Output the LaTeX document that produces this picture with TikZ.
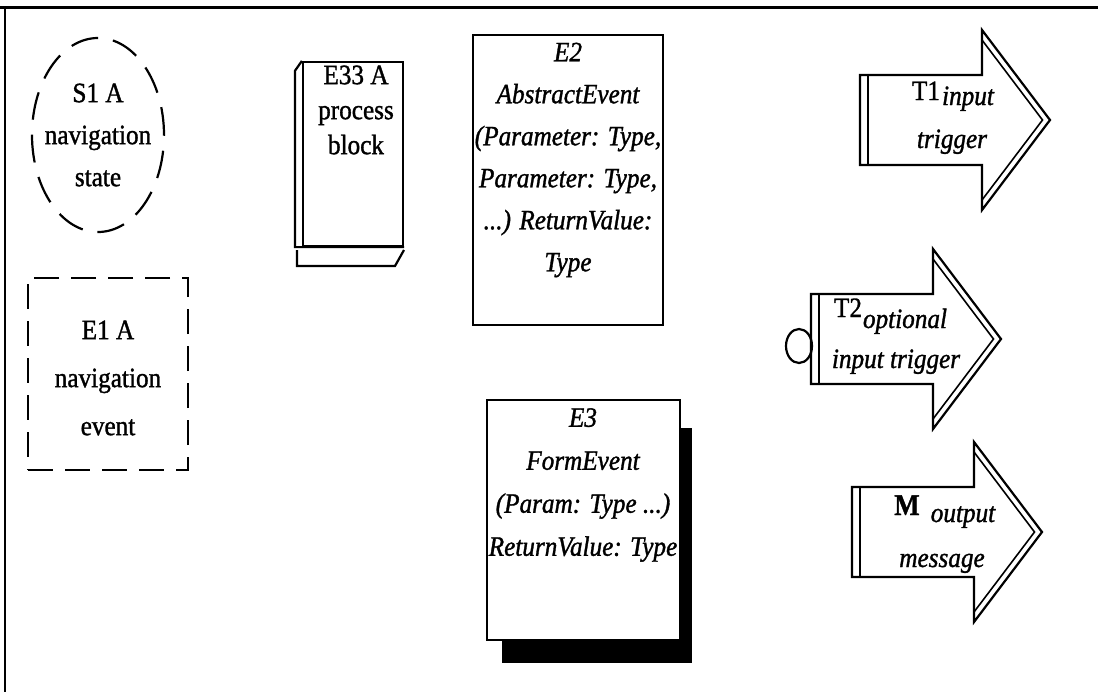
\documentclass[tikz,border=0pt]{standalone}
\usepackage{fontspec}
\setmainfont{Liberation Serif}[FakeStretch=0.9, FakeBold=1.2]
\usetikzlibrary{shapes.geometric}
\newcommand\lblsize[1]{\fontsize{28}{#1}\selectfont}
\tikzset{
  shape line/.style={draw=black, line width=2.2pt},
  txt/.style={align=center, inner sep=0pt},
  bigarrow/.pic={
    \draw[shape line, fill=white, line join=miter]
      (-122,-45) -- (0,-45) -- (0,-90) -- (68,0) -- (0,90) -- (0,45) -- (-122,45) -- cycle;
    \draw[shape line] (-114,-45) -- (-114,45);
    \draw[line width=1.6pt] (0,-80) -- (60.5,0) -- (0,80);
  }
}
\begin{document}
\begin{tikzpicture}[x=1pt,y=-1pt]
\useasboundingbox (0,0) rectangle (1098,694);
% frame
\draw[line width=3pt] (0,7) -- (1098,7);
\draw[line width=2.5pt] (5,7) -- (5,692);

% S1 navigation state
\node[ellipse, shape line, dash pattern=on 28pt off 15pt, minimum width=132pt, minimum height=194pt, inner sep=0pt] (s1) at (98,135) {};
\node[txt, font=\lblsize{42}] (s1t) at (s1.center) {S1 A\\navigation\\state};

% E1 navigation event
\node[shape line, dash pattern=on 25pt off 12pt, minimum width=160pt, minimum height=192pt, inner sep=0pt] (e1) at (108,374) {};
\node[txt, font=\lblsize{48}] (e1t) at (108,378) {E1 A\\navigation\\event};

% E33 process block
\node[shape line, minimum width=100pt, minimum height=184pt, inner sep=0pt] (e33) at (353,154) {};
\draw[shape line] (e33.north west) -- ++(-7,10) |- (e33.south east);
\draw[shape line] (297,250) -- (297,266) -- (395,266) -- (404,250);
\node[txt, font=\lblsize{35}] (e33t) at (356,110) {E33 A\\process\\block};

% E2 abstract event
\node[shape line, minimum width=190pt, minimum height=290pt, inner sep=0pt] (e2) at (568,180) {};
\node[txt, font=\lblsize{42}\itshape] (e2t) at (568,160) {E2\\AbstractEvent\\(Parameter: Type,\\Parameter: Type,\\...) ReturnValue:\\Type};

% E3 form event with shadow
\node[fill=black, minimum width=190pt, minimum height=235pt, inner sep=0pt] (e3s) at (597,545) {};
\node[shape line, fill=white, minimum width=193pt, minimum height=240pt, inner sep=0pt] (e3) at (583.5,520) {};
\node[txt, font=\lblsize{43}\itshape] (e3t) at (583,485) {E3\\FormEvent\\(Param: Type ...)\\ReturnValue: Type};

% T1 input trigger
\pic (t1) at (982,120) {bigarrow};
\node[anchor=base, inner sep=0pt, font=\lblsize{34}] (t1a) at (926,100) {T1};
\node[anchor=base, inner sep=0pt, font=\lblsize{34}\itshape] (t1b) at (968,105) {input};
\node[anchor=base, inner sep=0pt, font=\lblsize{34}\itshape] (t1c) at (952,148) {trigger};

% T2 optional input trigger
\pic (t2) at (933,339) {bigarrow};
\node[ellipse, shape line, minimum width=26pt, minimum height=34pt, inner sep=0pt] (t2o) at (799,346) {};
\node[anchor=base, inner sep=0pt, font=\lblsize{34}] (t2a) at (848,317) {T2};
\node[anchor=base, inner sep=0pt, font=\lblsize{34}\itshape] (t2b) at (905,328) {optional};
\node[anchor=base, inner sep=0pt, font=\lblsize{34}\itshape] (t2c) at (896,368) {input trigger};

% M output message
\pic (m) at (974,532) {bigarrow};
\node[anchor=base, inner sep=0pt, font=\fontsize{30}{34}\selectfont\bfseries] (ma) at (907,515) {M};
\node[anchor=base, inner sep=0pt, font=\lblsize{34}\itshape] (mb) at (963,522) {output};
\node[anchor=base, inner sep=0pt, font=\lblsize{34}\itshape] (mc) at (942,567) {message};
\end{tikzpicture}
\end{document}
